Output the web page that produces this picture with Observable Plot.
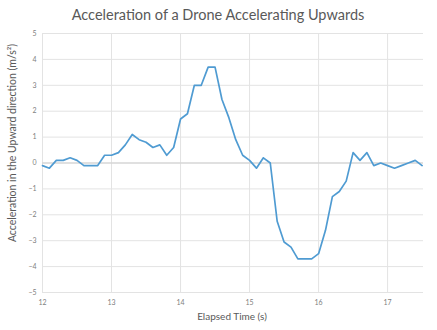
<!DOCTYPE html>
<html><head><meta charset="utf-8">
<script src="https://cdn.jsdelivr.net/npm/d3@7"></script>
<script src="https://cdn.jsdelivr.net/npm/@observablehq/plot@0.6"></script>
<style>body{margin:0;background:#fff;} svg{display:block;}</style>
</head><body><div id="chart"></div>
<script>
const title = "Acceleration of a Drone Accelerating Upwards";
const xLabel = "Elapsed Time (s)";
const yLabel = "Acceleration in the Upward direction (m/s²)";
const xTicks = [12, 13, 14, 15, 16, 17];
const yTicks = [-5, -4, -3, -2, -1, 0, 1, 2, 3, 4, 5];
const times = [12.0,12.1,12.2,12.3,12.4,12.5,12.6,12.7,12.8,12.9,
  13.0,13.1,13.2,13.3,13.4,13.5,13.6,13.7,13.8,13.9,
  14.0,14.1,14.2,14.3,14.4,14.5,14.6,14.7,14.8,14.9,
  15.0,15.1,15.2,15.3,15.4,15.5,15.6,15.7,15.8,15.9,
  16.0,16.1,16.2,16.3,16.4,16.5,16.6,16.7,16.8,16.9,
  17.0,17.1,17.2,17.3,17.4,17.5];
const accel = [-0.1,-0.2,0.1,0.1,0.2,0.1,-0.1,-0.1,-0.1,0.3,
  0.3,0.4,0.7,1.1,0.9,0.8,0.6,0.7,0.3,0.6,
  1.7,1.9,3.0,3.0,3.7,3.7,2.45,1.75,0.9,0.3,
  0.1,-0.2,0.2,0.0,-2.25,-3.05,-3.25,-3.7,-3.7,-3.7,
  -3.5,-2.6,-1.3,-1.1,-0.7,0.4,0.1,0.4,-0.1,0.0,
  -0.1,-0.2,-0.1,0.0,0.1,-0.1];
const data = times.map((t, i) => ({t, a: accel[i]}));

const W = 437, H = 330;
const chart = Plot.plot({
  width: W, height: H,
  marginLeft: 42, marginRight: 14, marginTop: 33, marginBottom: 38,
  style: {fontFamily: "Lato, sans-serif", fontSize: "7px", color: "#808080", background: "#fff"},
  x: {domain: [12, 17.52], ticks: xTicks, tickFormat: d => d, label: null},
  y: {domain: [-5, 5], ticks: yTicks, tickFormat: d => d, label: null},
  marks: [
    Plot.gridX(xTicks, {stroke: "#e3e3e3", strokeOpacity: 1}),
    Plot.gridY(yTicks, {stroke: "#e3e3e3", strokeOpacity: 1}),
    Plot.ruleY([0], {stroke: "#cfcfcf"}),
    Plot.axisX(xTicks, {tickSize: 0, tickPadding: 8, fill: "#808080", fontSize: 7}),
    Plot.axisY(yTicks, {tickSize: 0, tickPadding: 6, fill: "#808080", fontSize: 7}),
    Plot.line(data, {x: "t", y: "a", stroke: "#4f9bd2", strokeWidth: 1.7})
  ]
});
const svg = d3.select(chart);
svg.append("text").attr("x", 218).attr("y", 20).attr("text-anchor", "middle")
  .attr("font-family", "Lato, sans-serif").attr("font-size", 14.5).attr("fill", "#595959").text(title);
svg.append("text").attr("x", 232).attr("y", 320).attr("text-anchor", "middle")
  .attr("font-family", "Lato, sans-serif").attr("font-size", 10).attr("fill", "#595959").text(xLabel);
svg.append("text").attr("transform", "translate(16,143) rotate(-90)").attr("text-anchor", "middle")
  .attr("font-family", "Lato, sans-serif").attr("font-size", 10.5).attr("fill", "#595959").text(yLabel);
document.getElementById("chart").appendChild(chart);
</script>
</body></html>
